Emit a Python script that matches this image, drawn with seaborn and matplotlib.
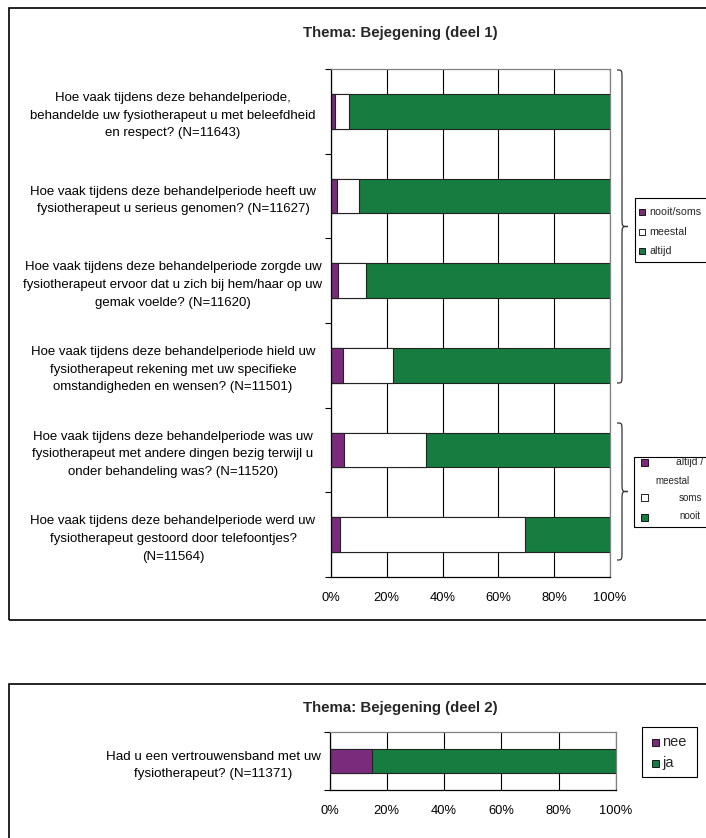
import matplotlib
matplotlib.use("Agg")
import matplotlib.pyplot as plt
import seaborn as sns
import pandas as pd
import numpy as np
from matplotlib.patches import Rectangle, PathPatch
from matplotlib.path import Path

# ---------------- data ----------------
questions_1 = [
    "Hoe vaak tijdens deze behandelperiode,\nbehandelde uw fysiotherapeut u met beleefdheid\nen respect? (N=11643)",
    "Hoe vaak tijdens deze behandelperiode heeft uw\nfysiotherapeut u serieus genomen? (N=11627)",
    "Hoe vaak tijdens deze behandelperiode zorgde uw\nfysiotherapeut ervoor dat u zich bij hem/haar op uw\ngemak voelde? (N=11620)",
    "Hoe vaak tijdens deze behandelperiode hield uw\nfysiotherapeut rekening met uw specifieke\nomstandigheden en wensen? (N=11501)",
    "Hoe vaak tijdens deze behandelperiode was uw\nfysiotherapeut met andere dingen bezig terwijl u\nonder behandeling was? (N=11520)",
    "Hoe vaak tijdens deze behandelperiode werd uw\nfysiotherapeut gestoord door telefoontjes?\n(N=11564)",
]
first_share = [1.4, 2.0, 2.4, 4.4, 4.8, 3.2]      # nooit/soms  | altijd / meestal
middle_share = [5.0, 8.2, 10.1, 17.8, 29.4, 66.2]  # meestal     | soms
last_share = [93.6, 89.8, 87.5, 77.8, 65.8, 30.6]  # altijd      | nooit

question_2 = ["Had u een vertrouwensband met uw\nfysiotherapeut? (N=11371)"]
nee_share = [14.7]
ja_share = [85.3]

title_1 = "Thema: Bejegening (deel 1)"
title_2 = "Thema: Bejegening (deel 2)"
legend_1 = ["nooit/soms", "meestal", "altijd"]
legend_3 = ["nee", "ja"]
xtick_vals = [0, 20, 40, 60, 80, 100]
xtick_labels = ["0%", "20%", "40%", "60%", "80%", "100%"]

PURPLE = "#7B2B7C"
GREEN = "#167C3F"
WHITE = "#FFFFFF"
EDGE = "#222222"

sns.set_theme(style="white")
plt.rcParams["font.family"] = ["Liberation Sans", "DejaVu Sans"]

W, H = 706, 838
fig = plt.figure(figsize=(W / 100, H / 100), dpi=100)
fig.patch.set_facecolor("white")


def fx(x):
    return x / W


def fy(y):
    return 1 - y / H


def ax_rect(x0, y0, x1, y1):
    return [fx(x0), fy(y1), fx(x1) - fx(x0), fy(y0) - fy(y1)]


# outer frames
fig.patches.append(Rectangle((fx(9), fy(620)), fx(730) - fx(9), fy(8) - fy(620),
                             transform=fig.transFigure, fill=False, ec="black", lw=1.2))
fig.patches.append(Rectangle((fx(9), fy(860)), fx(730) - fx(9), fy(684) - fy(860),
                             transform=fig.transFigure, fill=False, ec="black", lw=1.2))


def style_axes(ax, n, pad_pt, fs):
    ax.set_xlim(0, 100)
    ax.set_ylim(n - 0.5, -0.5)
    ax.set_xticks(xtick_vals)
    ax.set_xticklabels(xtick_labels, fontsize=9.3)
    ax.set_xlabel("")
    ax.set_ylabel("")
    ax.set_axisbelow(True)
    ax.xaxis.grid(True, color="black", lw=0.8)
    ax.yaxis.grid(False)
    for s in ["left", "bottom"]:
        ax.spines[s].set_color("black")
        ax.spines[s].set_linewidth(0.9)
    for s in ["top", "right"]:
        ax.spines[s].set_color("#808080")
        ax.spines[s].set_linewidth(0.9)
    ax.tick_params(axis="x", which="major", direction="out", length=4, width=0.8,
                   color="black", pad=7, labelcolor="black")
    ax.set_yticks(np.arange(-0.5, n, 1.0), minor=True)
    ax.tick_params(axis="y", which="minor", direction="out", length=4, width=0.8,
                   color="black", left=True)
    ax.tick_params(axis="y", which="major", length=0, pad=pad_pt, labelsize=fs)
    for t in ax.get_yticklabels():
        t.set_horizontalalignment("center")
        t.set_multialignment("center")
        t.set_linespacing(1.62)
        t.set_color("black")


# ---------------- chart 1 ----------------
df1 = pd.DataFrame({"q": questions_1,
                    "a": first_share, "b": middle_share, "c": last_share})
df1["cum_b"] = df1["a"] + df1["b"]
df1["cum_c"] = df1["cum_b"] + df1["c"]

ax1 = fig.add_axes(ax_rect(331, 69, 610, 577))
sns.barplot(data=df1, x="cum_c", y="q", orient="h", color=GREEN, width=0.41,
            edgecolor=EDGE, linewidth=0.8, saturation=1, ax=ax1)
sns.barplot(data=df1, x="cum_b", y="q", orient="h", color=WHITE, width=0.41,
            edgecolor=EDGE, linewidth=0.8, saturation=1, ax=ax1)
sns.barplot(data=df1, x="a", y="q", orient="h", color=PURPLE, width=0.41,
            edgecolor=EDGE, linewidth=0.8, saturation=1, ax=ax1)
style_axes(ax1, len(questions_1), (331 - 173) * 0.72, 9.5)
fig.text(fx(400), fy(33), title_1, ha="center", va="center", fontsize=10.8, fontweight="bold")

# ---------------- chart 2 ----------------
df2 = pd.DataFrame({"q": question_2, "nee": nee_share, "ja": ja_share})
df2["cum"] = df2["nee"] + df2["ja"]
ax2 = fig.add_axes(ax_rect(329.5, 732, 616, 790))
sns.barplot(data=df2, x="cum", y="q", orient="h", color=GREEN, width=0.41,
            edgecolor=EDGE, linewidth=0.8, saturation=1, ax=ax2)
sns.barplot(data=df2, x="nee", y="q", orient="h", color=PURPLE, width=0.41,
            edgecolor=EDGE, linewidth=0.8, saturation=1, ax=ax2)
style_axes(ax2, 1, (329.5 - 213) * 0.72, 9.6)
fig.text(fx(400), fy(708), title_2, ha="center", va="center", fontsize=10.8, fontweight="bold")


# ---------------- braces ----------------
def brace(yt, yb, x0=617, x1=622, x2=628, r=9):
    ym = (yt + yb) / 2
    pts = [(x0, yt), (x1, yt), (x1, yt), (x1, yt + r),
           (x1, ym - r), (x1, ym), (x1, ym), (x2, ym),
           (x1, ym), (x1, ym), (x1, ym + r),
           (x1, yb - r), (x1, yb), (x1, yb), (x0, yb)]
    codes = [Path.MOVETO, Path.CURVE4, Path.CURVE4, Path.CURVE4,
             Path.LINETO, Path.CURVE4, Path.CURVE4, Path.CURVE4,
             Path.CURVE4, Path.CURVE4, Path.CURVE4,
             Path.LINETO, Path.CURVE4, Path.CURVE4, Path.CURVE4]
    verts = [(fx(x), fy(y)) for x, y in pts]
    fig.patches.append(PathPatch(Path(verts, codes), transform=fig.transFigure,
                                 fill=False, ec="#333333", lw=0.9))


brace(70, 383)
brace(423, 560)


# ---------------- legends ----------------
def box(x0, y0, x1, y1):
    fig.patches.append(Rectangle((fx(x0), fy(y1)), fx(x1) - fx(x0), fy(y0) - fy(y1),
                                 transform=fig.transFigure, fc="white", ec="black", lw=0.8))


def marker(cx, cy, color, s=6):
    fig.patches.append(Rectangle((fx(cx - s / 2), fy(cy + s / 2)), s / W, s / H,
                                 transform=fig.transFigure, fc=color, ec="black", lw=0.6))


colors3 = [PURPLE, WHITE, GREEN]
box(635, 198, 730, 262)
for lbl, col, yy in zip(legend_1, colors3, [212, 232, 251]):
    marker(642, yy, col)
    fig.text(fx(649), fy(yy), lbl, ha="left", va="center", fontsize=7.7)

box(634, 457, 730, 527)
for col, yy in zip(colors3, [463, 498, 517]):
    marker(644, yy, col, 7)
fig.text(fx(703), fy(462), "altijd /", ha="right", va="center", fontsize=7.5)
fig.text(fx(672), fy(481), "meestal", ha="center", va="center", fontsize=7)
fig.text(fx(702), fy(498), "soms", ha="right", va="center", fontsize=7)
fig.text(fx(700), fy(516), "nooit", ha="right", va="center", fontsize=7)

box(642, 727, 697, 777)
for lbl, col, yy in zip(legend_3, [PURPLE, GREEN], [742, 763]):
    marker(655, yy, col, 7)
    fig.text(fx(662), fy(yy), lbl, ha="left", va="center", fontsize=10.5)

fig.savefig("out.png", dpi=100, facecolor="white")
